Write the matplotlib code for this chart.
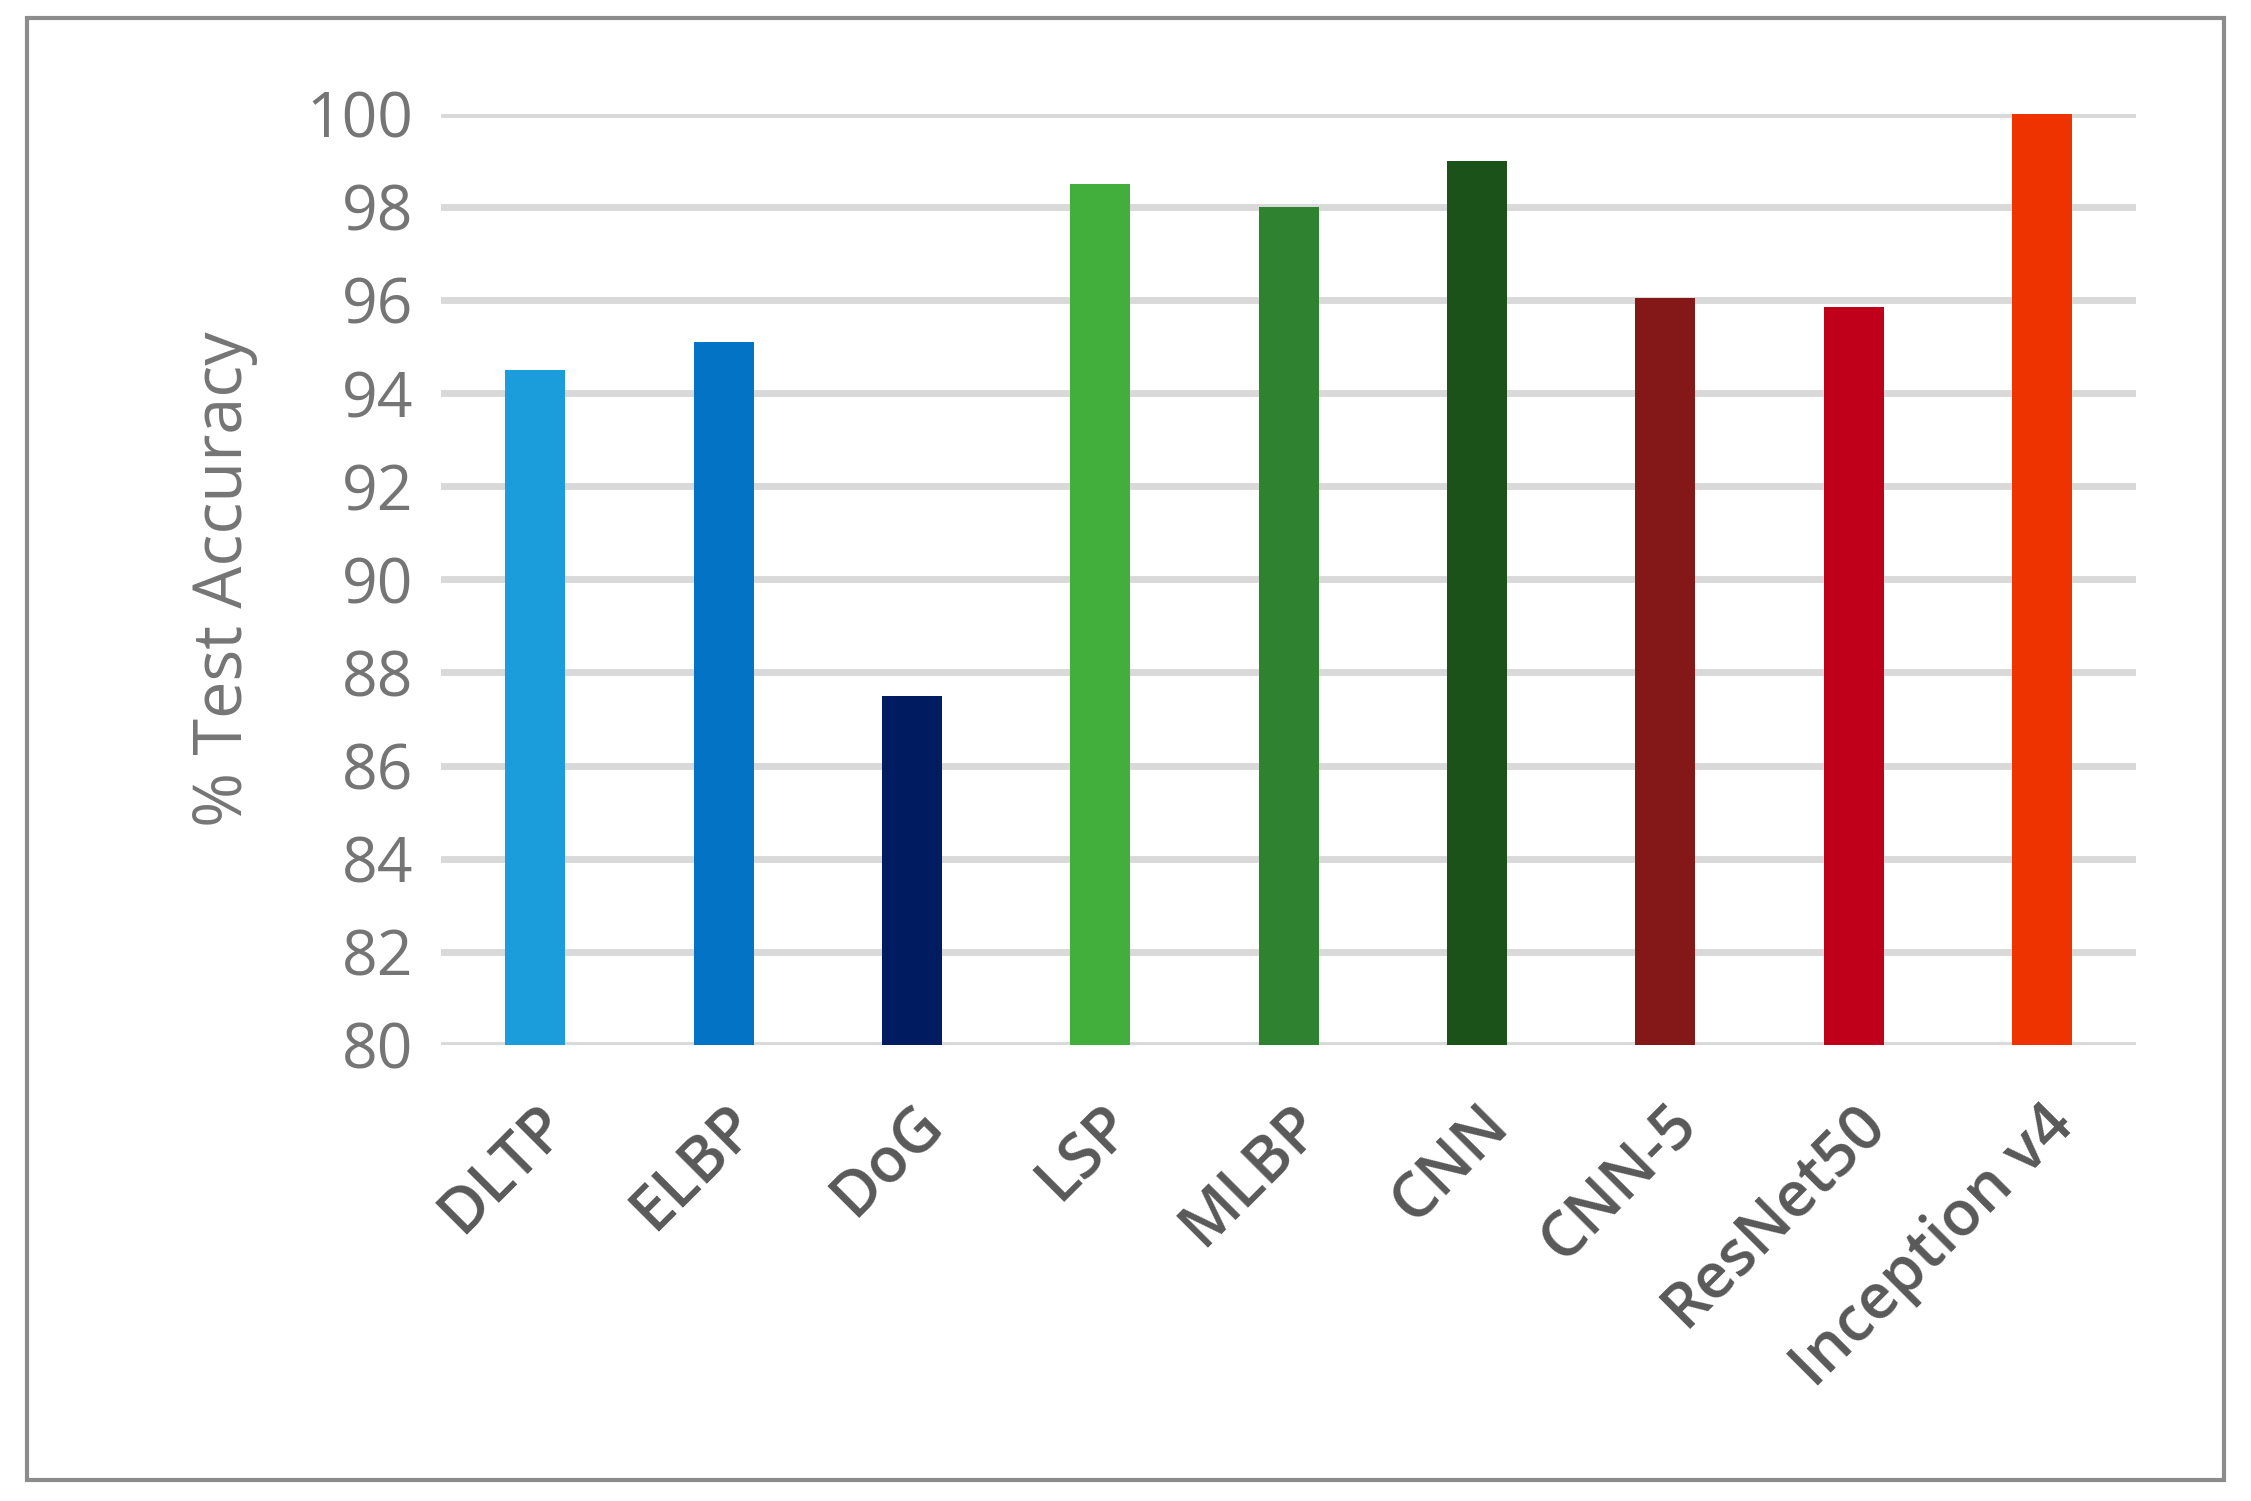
import matplotlib
matplotlib.use('Agg')
from matplotlib import pyplot as plt
from matplotlib.patches import Rectangle

# method names and test accuracy
methods = ['DLTP', 'ELBP', 'DoG', 'LSP', 'MLBP', 'CNN', 'CNN-5', 'ResNet50', 'Inception v4']
accuracy = [94.5, 95.1, 87.5, 98.5, 98.0, 99.0, 96.05, 95.85, 100.0]
colors = ['#1B9DDB', '#0373C6', '#001B60', '#42AE3C', '#2E8230',
          '#1B5219', '#841818', '#C0001A', '#EE3300']
y_ticks = list(range(80, 101, 2))

plt.rcParams['font.family'] = ['Open Sans', 'DejaVu Sans']

fig = plt.figure(figsize=(22.51, 15.01), dpi=100)
ax = fig.add_axes([0.196, 0.304, 0.753, 0.62])

ax.bar(methods, accuracy, width=0.32, color=colors, zorder=3)
ax.set_ylim(80, 100)
ax.set_xlim(-0.5, len(methods) - 0.5)
ax.set_yticks(y_ticks)
ax.yaxis.grid(True, color='#D9D9D9', linewidth=5, zorder=0)
for s in ax.spines.values():
    s.set_visible(False)
ax.tick_params(length=0)
ax.tick_params(axis='y', labelsize=45, labelcolor='#757575', pad=20)
ax.tick_params(axis='x', labelsize=45, labelcolor='#595959', pad=35)
for lab in ax.get_xticklabels():
    lab.set_rotation(45)
    lab.set_ha('right')
    lab.set_rotation_mode('anchor')
    lab.set_fontweight('semibold')
ax.set_ylabel('% Test Accuracy', fontsize=48, color='#757575', labelpad=35)

# outer frame
fig.patches.append(Rectangle((0.012, 0.014), 0.976, 0.974, transform=fig.transFigure,
                             fill=False, edgecolor='#8C8C8C', linewidth=3))

fig.savefig('out.png', dpi=100)
